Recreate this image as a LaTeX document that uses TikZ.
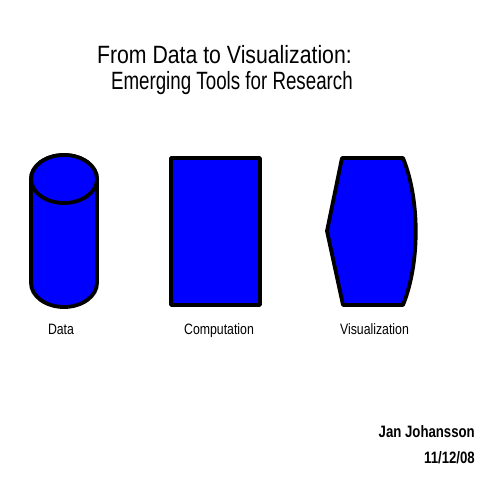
\documentclass[tikz,border=0pt]{standalone}
\usepackage{fontspec}
\newfontfamily\titlefont[FakeStretch=0.85]{Liberation Sans}
\newfontfamily\subtitlefont[FakeStretch=0.75]{Liberation Sans}
\newfontfamily\labelfont[FakeStretch=0.82]{Liberation Sans}
\newfontfamily\authorfont[FakeStretch=0.80]{Liberation Sans}
\definecolor{shapeblue}{RGB}{0,0,255}
\begin{document}
\begin{tikzpicture}[x=1pt,y=-1pt,
  blueshape/.style={fill=shapeblue,draw=black,line width=3.8pt,line join=round},
  titletext/.style={inner sep=0pt,anchor=base east,font=\titlefont\fontsize{25}{30}\selectfont},
  subtitletext/.style={inner sep=0pt,anchor=base east,font=\subtitlefont\fontsize{25}{30}\selectfont},
  labeltext/.style={inner sep=0pt,anchor=base,font=\labelfont\fontsize{15}{18}\selectfont},
  authortext/.style={inner sep=0pt,anchor=base east,font=\authorfont\bfseries\fontsize{16.5}{20}\selectfont}]
\useasboundingbox (0,0) rectangle (480,480);
% title
\node[titletext] (t1) at (352,63) {From Data to Visualization:};
\node[subtitletext] (t2) at (353,89) {Emerging Tools for Research};
% data cylinder
\path[blueshape] (31,179) -- (31,283) arc[start angle=180,end angle=0,x radius=33,y radius=24] -- (97,179) arc[start angle=0,end angle=-180,x radius=33,y radius=24] -- cycle;
\path[blueshape] (64,179) ellipse[x radius=33,y radius=24];
% computation rectangle
\path[blueshape] (171,158) rectangle (260,305);
% visualization display shape
\path[blueshape] (342,158) -- (403,158) .. controls (420,200) and (420,263) .. (403,305) -- (343,305) -- (327,231) -- cycle;
% labels
\node[labeltext] (ldata) at (61,334) {Data};
\node[labeltext] (lcomp) at (219,334) {Computation};
\node[labeltext] (lvis) at (374.5,334) {Visualization};
% author
\node[authortext] (author) at (475,437) {Jan Johansson};
\node[authortext] (date) at (475,463) {11/12/08};
\end{tikzpicture}
\end{document}
